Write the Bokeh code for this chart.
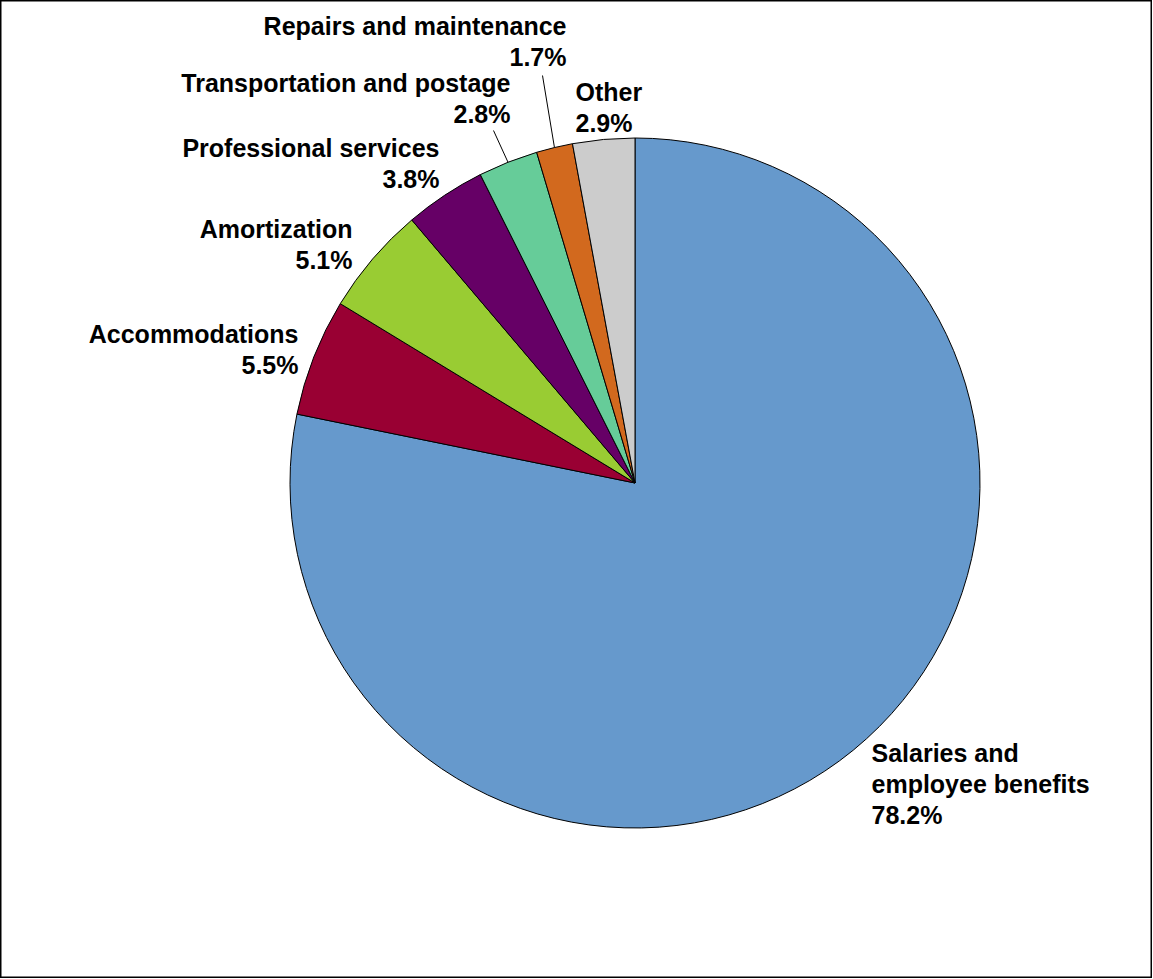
import math
from bokeh.plotting import figure
from bokeh.models import Range1d, ColumnDataSource
from bokeh.core.properties import value
from bokeh.embed import file_html
from bokeh.resources import INLINE

# ---- data ----
categories = ["Salaries and employee benefits", "Accommodations", "Amortization",
              "Professional services", "Transportation and postage",
              "Repairs and maintenance", "Other"]
label_lines = [["Salaries and", "employee benefits"], ["Accommodations"], ["Amortization"],
               ["Professional services"], ["Transportation and postage"],
               ["Repairs and maintenance"], ["Other"]]
shares = [78.2, 5.5, 5.1, 3.8, 2.8, 1.7, 2.9]
colors = ["#6699CC", "#990033", "#99CC33", "#660066", "#66CC99", "#D2691E", "#CCCCCC"]

# ---- layout (page pixel coordinates) ----
W, H = 1152, 978
def dx(px): return px
def dy(py): return H - py

CX, CY, R = 634.5, 482.5, 345
SHIFT = -9
# label anchor: (x, baseline of first line, align)
anchors = [(871, 761.5, "left"), (298, 342.5, "right"), (352, 237.5, "right"),
           (439, 156.5, "right"), (510, 91.5, "right"), (566, 34, "right"), (575, 100, "left")]
leaders = {4: (493, 130), 5: (542, 75)}
LINE = 31

p = figure(width=W, height=H, output_backend="svg", toolbar_location=None,
           x_range=Range1d(0, W), y_range=Range1d(0, H), min_border=0)
p.xaxis.visible = False
p.yaxis.visible = False
p.grid.visible = False
p.outline_line_color = "black"
p.outline_line_width = 2
p.background_fill_color = "white"
p.border_fill_color = "white"

total = sum(shares)
start = math.pi / 2
starts, ends, mids = [], [], []
for v in shares:
    a = 2 * math.pi * v / total
    starts.append(start)
    ends.append(start - a)
    mids.append(start - a / 2)
    start -= a

src = ColumnDataSource(dict(start=starts, end=ends, color=colors))
p.wedge(x=dx(CX), y=dy(CY), radius=R, start_angle="start", end_angle="end",
        direction="clock", fill_color="color", line_color="black", line_width=1, source=src)

# leader lines
for i, (lx, ly) in leaders.items():
    ex = CX + R * math.cos(mids[i])
    ey = CY - R * math.sin(mids[i])
    p.line([dx(lx), dx(ex)], [dy(ly), dy(ey)], line_color="black", line_width=1)

# labels
tx, ty, tt, ta = [], [], [], []
for i, lines in enumerate(label_lines):
    ax, ay, al = anchors[i]
    all_lines = lines + [f"{shares[i]:.1f}%"]
    for k, t in enumerate(all_lines):
        tx.append(dx(ax)); ty.append(dy(ay + SHIFT + k * LINE)); tt.append(t); ta.append(al)
lsrc = ColumnDataSource(dict(x=tx, y=ty, text=tt, align=ta))
p.text(x="x", y="y", text="text", text_align="align", text_baseline="alphabetic",
       text_font=value("Liberation Sans"), text_font_style="bold",
       text_font_size="25px", text_color="black", source=lsrc)

open("out.html", "w").write(file_html(p, INLINE))
